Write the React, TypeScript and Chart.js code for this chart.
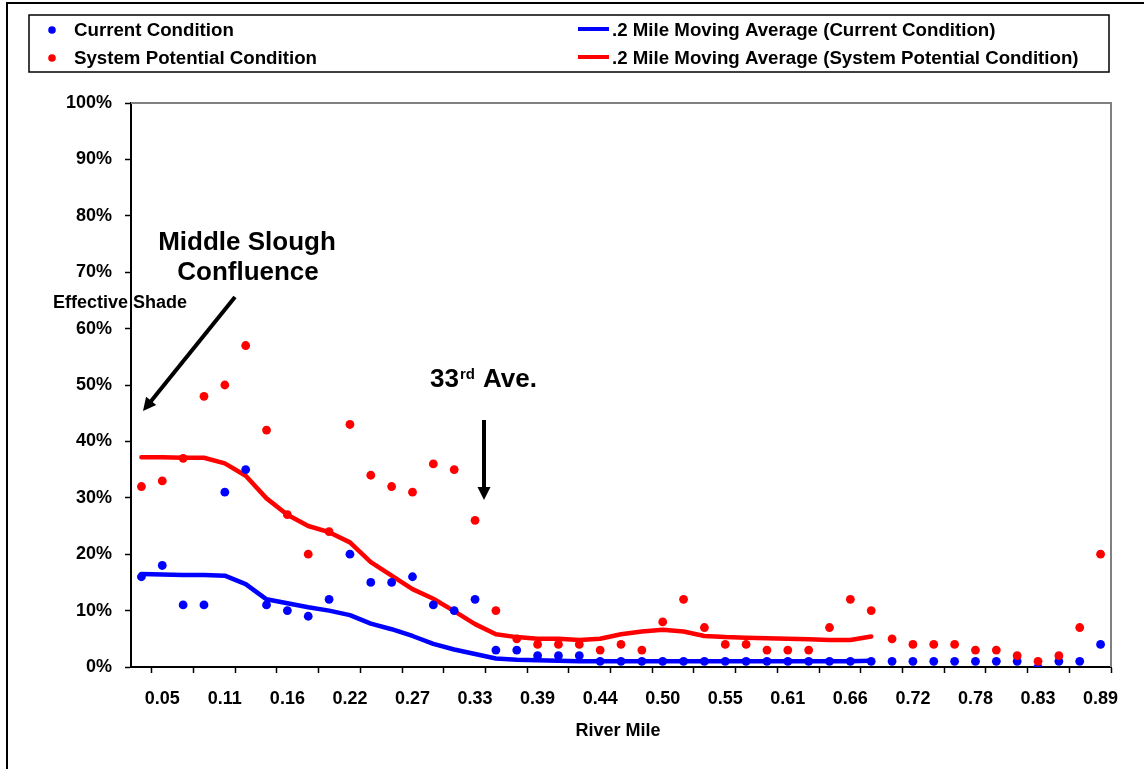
import { useEffect, useRef } from 'react';
import { Chart, registerables } from 'chart.js';

Chart.register(...registerables);

// ---- data ----
const riverMiles = [
  '0.03', '0.05', '0.07', '0.09', '0.11', '0.12', '0.14', '0.16', '0.18', '0.20',
  '0.22', '0.24', '0.26', '0.27', '0.29', '0.31', '0.33', '0.35', '0.37', '0.39',
  '0.41', '0.42', '0.44', '0.46', '0.48', '0.50', '0.52', '0.54', '0.55', '0.57',
  '0.59', '0.61', '0.63', '0.65', '0.66', '0.68', '0.70', '0.72', '0.74', '0.76',
  '0.78', '0.80', '0.81', '0.83', '0.85', '0.87', '0.89',
];

const currentCondition = [
  16, 18, 11, 11, 31, 35, 11, 10, 9, 12, 20, 15, 15, 16, 11, 10, 12,
  3, 3, 2, 2, 2, 1, 1, 1, 1, 1, 1, 1, 1, 1, 1, 1, 1, 1, 1, 1, 1, 1, 1,
  1, 1, 1, 0, 1, 1, 4,
];

const systemPotential = [
  32, 33, 37, 48, 50, 57, 42, 27, 20, 24, 43, 34, 32, 31, 36, 35, 26,
  10, 5, 4, 4, 4, 3, 4, 3, 8, 12, 7, 4, 4, 3, 3, 3, 7, 12, 10, 5, 4, 4, 4,
  3, 3, 2, 1, 2, 7, 20,
];

const currentAvg = [
  16.5, 16.4, 16.3, 16.3, 16.2, 14.7, 12.0, 11.3, 10.6, 10.0, 9.2, 7.7,
  6.7, 5.5, 4.1, 3.1, 2.3, 1.5, 1.3, 1.2, 1.1, 1.0, 1.0, 1.0, 1.0, 1.0,
  1.0, 1.0, 1.0, 1.0, 1.0, 1.0, 1.0, 1.0, 1.0, 1.1,
];

const potentialAvg = [
  37.2, 37.2, 37.1, 37.1, 36.1, 33.9, 29.9, 27.0, 25.0, 23.9, 22.1, 18.6,
  16.2, 13.8, 12.1, 9.9, 7.6, 5.8, 5.3, 5.0, 5.0, 4.8, 5.0, 5.8, 6.3, 6.6,
  6.3, 5.5, 5.3, 5.2, 5.1, 5.0, 4.9, 4.8, 4.8, 5.4,
];

const yTickStep = 10;
const yMax = 100;

const xTitle = 'River Mile';
const yTitle = 'Effective Shade';
const note1 = ['Middle Slough', 'Confluence'];
const note2 = { num: '33', sup: 'rd', rest: 'Ave.' };

const FONT = '"Liberation Sans", Arial, Helvetica, sans-serif';
const BLUE = '#0000FF';
const RED = '#FF0000';

function drawArrow(c: CanvasRenderingContext2D, x1: number, y1: number, x2: number, y2: number) {
  const ang = Math.atan2(y2 - y1, x2 - x1);
  const head = 13;
  const hw = 6.5;
  const bx = x2 - head * Math.cos(ang);
  const by = y2 - head * Math.sin(ang);
  c.lineWidth = 4;
  c.lineCap = 'butt';
  c.beginPath();
  c.moveTo(x1, y1);
  c.lineTo(bx + Math.cos(ang), by + Math.sin(ang));
  c.stroke();
  c.beginPath();
  c.moveTo(x2, y2);
  c.lineTo(bx + hw * Math.sin(ang), by - hw * Math.cos(ang));
  c.lineTo(bx - hw * Math.sin(ang), by + hw * Math.cos(ang));
  c.closePath();
  c.fill();
}

const overlayPlugin = {
  id: 'overlay',
  beforeDraw(chart: any) {
    const c = chart.ctx as CanvasRenderingContext2D;
    c.save();
    c.fillStyle = '#fff';
    c.fillRect(0, 0, chart.width, chart.height);
    c.restore();
  },
  afterDraw(chart: any) {
    const c = chart.ctx as CanvasRenderingContext2D;
    const a = chart.chartArea;
    c.save();
    // outer frame
    c.strokeStyle = '#000';
    c.lineWidth = 2;
    c.beginPath();
    c.moveTo(7, chart.height + 2);
    c.lineTo(7, 3);
    c.lineTo(chart.width + 2, 3);
    c.stroke();

    // plot area top/right border
    c.strokeStyle = '#808080';
    c.lineWidth = 2;
    c.beginPath();
    c.moveTo(a.left, a.top);
    c.lineTo(a.right, a.top);
    c.lineTo(a.right, a.bottom);
    c.stroke();

    // legend
    c.strokeStyle = '#000';
    c.lineWidth = 1.5;
    c.strokeRect(29, 15, 1080, 57);
    const ds = chart.data.datasets;
    c.font = 'bold 18.7px ' + FONT;
    c.textBaseline = 'middle';
    c.textAlign = 'left';
    const rows = [30, 58];
    [ds[0], ds[1]].forEach((d: any, i: number) => {
      c.fillStyle = d.backgroundColor;
      c.beginPath();
      c.arc(52, rows[i], 3.8, 0, Math.PI * 2);
      c.fill();
      c.fillStyle = '#000';
      c.fillText(d.label, 74, rows[i] + 1);
    });
    [ds[2], ds[3]].forEach((d: any, i: number) => {
      c.strokeStyle = d.borderColor;
      c.lineWidth = 4;
      c.beginPath();
      c.moveTo(578, rows[i] - 1);
      c.lineTo(609, rows[i] - 1);
      c.stroke();
      c.fillStyle = '#000';
      c.fillText(d.label, 612, rows[i] + 1);
    });

    // axis titles
    c.fillStyle = '#000';
    c.font = 'bold 18px ' + FONT;
    c.textAlign = 'center';
    c.fillText(xTitle, 618, 731);
    c.textAlign = 'left';
    c.fillText(yTitle, 53, 303);

    // annotations
    c.font = 'bold 26px ' + FONT;
    c.textAlign = 'center';
    c.fillText(note1[0], 247, 243);
    c.fillText(note1[1], 248, 273);

    c.textAlign = 'left';
    c.textBaseline = 'alphabetic';
    c.fillText(note2.num, 430, 387);
    c.font = 'bold 15px ' + FONT;
    c.fillText(note2.sup, 460, 379);
    c.font = 'bold 26px ' + FONT;
    c.fillText(note2.rest, 483, 387);

    c.strokeStyle = '#000';
    c.fillStyle = '#000';
    drawArrow(c, 235, 297, 143, 411);
    drawArrow(c, 484, 420, 484, 500);

    c.restore();
  },
};

export default function App() {
  const ref = useRef<HTMLCanvasElement | null>(null);

  useEffect(() => {
    if (!ref.current) return;
    const chart = new Chart(ref.current, {
      type: 'line',
      data: {
        labels: riverMiles,
        datasets: [
          {
            label: 'Current Condition',
            data: currentCondition,
            showLine: false,
            backgroundColor: BLUE,
            borderColor: BLUE,
            pointRadius: 4.4,
            pointBorderWidth: 0,
            pointHoverRadius: 4.4,
            order: 2,
          },
          {
            label: 'System Potential Condition',
            data: systemPotential,
            showLine: false,
            backgroundColor: RED,
            borderColor: RED,
            pointRadius: 4.4,
            pointBorderWidth: 0,
            pointHoverRadius: 4.4,
            order: 1,
          },
          {
            label: '.2 Mile Moving Average (Current Condition)',
            data: currentAvg,
            borderColor: BLUE,
            backgroundColor: BLUE,
            borderWidth: 4.5,
            pointRadius: 0,
            tension: 0,
            borderJoinStyle: 'round',
            borderCapStyle: 'round',
            order: 4,
          },
          {
            label: '.2 Mile Moving Average (System Potential Condition)',
            data: potentialAvg,
            borderColor: RED,
            backgroundColor: RED,
            borderWidth: 4.5,
            pointRadius: 0,
            tension: 0,
            borderJoinStyle: 'round',
            borderCapStyle: 'round',
            order: 3,
          },
        ],
      },
      options: {
        animation: false,
        responsive: false,
        maintainAspectRatio: false,
        layout: { padding: { left: 0, top: 103, right: 33, bottom: 0 } },
        plugins: {
          legend: { display: false },
          tooltip: { enabled: false },
          title: { display: false },
        },
        scales: {
          x: {
            type: 'category',
            offset: true,
            afterFit: (s: any) => { s.height = 102; },
            grid: {
              offset: true,
              drawOnChartArea: false,
              drawTicks: true,
              tickLength: 6,
              tickWidth: 1.5,
              tickColor: (ctx: any) =>
                ctx.type !== 'tick' || ctx.index % 2 === 1 ? '#000' : 'rgba(0,0,0,0)',
            },
            border: { display: true, color: '#000', width: 2 },
            ticks: {
              autoSkip: false,
              maxRotation: 0,
              minRotation: 0,
              padding: 15,
              color: '#000',
              font: { family: FONT, size: 18, weight: 'bold' },
              callback: function (this: any, val: any, index: number) {
                return index % 3 === 1 ? this.getLabelForValue(val) : '';
              },
            },
          },
          y: {
            min: 0,
            max: yMax,
            afterFit: (s: any) => { s.width = 131; },
            grid: {
              drawOnChartArea: false,
              drawTicks: true,
              tickLength: 6,
              tickWidth: 1.5,
              tickColor: '#000',
            },
            border: { display: true, color: '#000', width: 2 },
            ticks: {
              stepSize: yTickStep,
              autoSkip: false,
              padding: 13,
              color: '#000',
              font: { family: FONT, size: 18, weight: 'bold' },
              callback: (v: any) => v + '%',
            },
          },
        },
      },
      plugins: [overlayPlugin],
    } as any);
    return () => chart.destroy();
  }, []);

  return (
    <div style={{ position: 'fixed', left: 0, top: 0, width: 1144, height: 769, background: '#fff' }}>
      <canvas ref={ref} width={1144} height={769} style={{ display: 'block' }} />
    </div>
  );
}
